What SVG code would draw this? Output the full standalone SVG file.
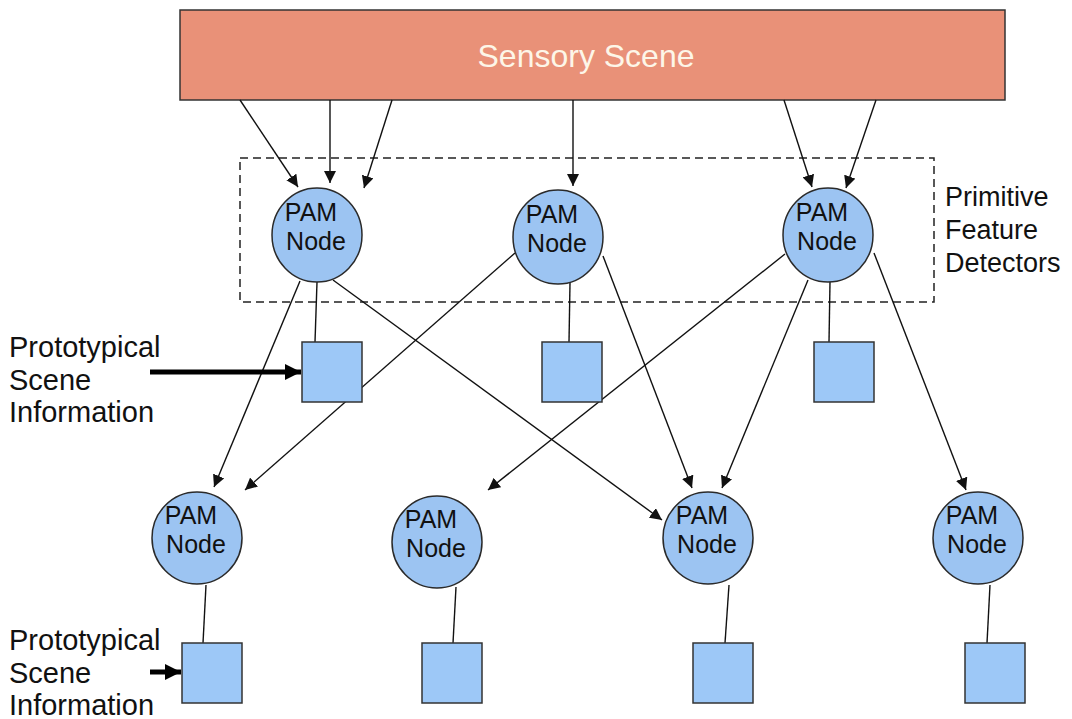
<svg xmlns="http://www.w3.org/2000/svg" width="1072" height="719" viewBox="0 0 1072 719">
<style>
.pam{fill:#9cc4f2;stroke:#2a2a2a;stroke-width:1.5}
.sq{fill:#9dc8f7;stroke:#333;stroke-width:1.5}
.t{font-family:"Liberation Sans",Arial,sans-serif;font-size:29px;fill:#111}
.tr{font-family:"Liberation Sans",Arial,sans-serif;font-size:27px;fill:#111}
.nt{font-family:"Liberation Sans",Arial,sans-serif;font-size:25px;fill:#111;text-anchor:middle}
.c line{stroke:#111;stroke-width:1.4}
.c line.a{marker-end:url(#ah)}
</style>
<defs>
<marker id="ah" viewBox="0 0 10 10" refX="10" refY="5" markerWidth="12" markerHeight="12" markerUnits="userSpaceOnUse" orient="auto">
<path d="M0,0 L10,5 L0,10 z" fill="#111"/>
</marker>
<marker id="bh" viewBox="0 0 10 10" refX="10" refY="5" markerWidth="16" markerHeight="16" markerUnits="userSpaceOnUse" orient="auto">
<path d="M0,0 L10,5 L0,10 z" fill="#000"/>
</marker>
</defs>
<rect width="1072" height="719" fill="#fff"/>
<g id="sensory">
<rect x="180" y="10" width="825" height="90" fill="#e99178" stroke="#333" stroke-width="1.5"/>
<text x="586" y="67" text-anchor="middle" font-family="Liberation Sans,Arial,sans-serif" font-size="32" fill="#fdf6e8">Sensory Scene</text>
</g>
<g id="detectors-box">
<rect x="240" y="158" width="694" height="144" fill="none" stroke="#222" stroke-width="1.5" stroke-dasharray="8,5"/>
</g>
<g class="c" id="connectors">
<line class="a" x1="240" y1="100" x2="298" y2="187"/>
<line class="a" x1="330" y1="100" x2="330" y2="183"/>
<line class="a" x1="392" y1="100" x2="364" y2="188"/>
<line class="a" x1="573" y1="100" x2="573" y2="186"/>
<line class="a" x1="784" y1="100" x2="812" y2="187"/>
<line class="a" x1="876" y1="100" x2="846" y2="188"/>
<line class="a" x1="300" y1="281" x2="214" y2="487"/>
<line x1="317" y1="282" x2="315" y2="342"/>
<line class="a" x1="333" y1="280" x2="662" y2="520"/>
<line class="a" x1="515" y1="253" x2="245" y2="490"/>
<line x1="570" y1="283" x2="569" y2="342"/>
<line class="a" x1="603" y1="256" x2="692" y2="488"/>
<line class="a" x1="785" y1="254" x2="488" y2="490"/>
<line class="a" x1="808" y1="280" x2="722" y2="488"/>
<line x1="830" y1="282" x2="829" y2="342"/>
<line class="a" x1="874" y1="253" x2="966" y2="490"/>
<line x1="206" y1="585" x2="203" y2="643"/>
<line x1="456" y1="587" x2="453" y2="643"/>
<line x1="729" y1="585" x2="725" y2="643"/>
<line x1="990" y1="585" x2="987" y2="643"/>
<line x1="150" y1="372" x2="301" y2="372" style="stroke:#000;stroke-width:5;marker-end:url(#bh)"/>
<line x1="150" y1="672" x2="181" y2="672" style="stroke:#000;stroke-width:5;marker-end:url(#bh)"/>
</g>
<g id="pam-top-1"><ellipse class="pam" cx="317" cy="235" rx="45" ry="47"/><text class="nt" x="311" y="221">PAM</text><text class="nt" x="316" y="250">Node</text></g>
<g id="pam-top-2"><ellipse class="pam" cx="558" cy="237" rx="45" ry="47"/><text class="nt" x="552" y="223">PAM</text><text class="nt" x="557" y="252">Node</text></g>
<g id="pam-top-3"><ellipse class="pam" cx="828" cy="235" rx="45" ry="47"/><text class="nt" x="822" y="221">PAM</text><text class="nt" x="827" y="250">Node</text></g>
<g id="pam-bot-1"><ellipse class="pam" cx="197" cy="538" rx="45" ry="46"/><text class="nt" x="191" y="524">PAM</text><text class="nt" x="196" y="553">Node</text></g>
<g id="pam-bot-2"><ellipse class="pam" cx="437" cy="542" rx="45" ry="46"/><text class="nt" x="431" y="528">PAM</text><text class="nt" x="436" y="557">Node</text></g>
<g id="pam-bot-3"><ellipse class="pam" cx="708" cy="538" rx="45" ry="46"/><text class="nt" x="702" y="524">PAM</text><text class="nt" x="707" y="553">Node</text></g>
<g id="pam-bot-4"><ellipse class="pam" cx="978" cy="538" rx="45" ry="46"/><text class="nt" x="972" y="524">PAM</text><text class="nt" x="977" y="553">Node</text></g>
<g id="sq-top-1"><rect class="sq" x="302" y="342" width="60" height="60"/></g>
<g id="sq-top-2"><rect class="sq" x="542" y="342" width="60" height="60"/></g>
<g id="sq-top-3"><rect class="sq" x="814" y="342" width="60" height="60"/></g>
<g id="sq-bot-1"><rect class="sq" x="182" y="643" width="60" height="60"/></g>
<g id="sq-bot-2"><rect class="sq" x="422" y="643" width="60" height="60"/></g>
<g id="sq-bot-3"><rect class="sq" x="693" y="643" width="60" height="60"/></g>
<g id="sq-bot-4"><rect class="sq" x="965" y="643" width="60" height="60"/></g>
<g id="label-pfd"><text class="tr" x="945" y="206">Primitive</text><text class="tr" x="945" y="239">Feature</text><text class="tr" x="945" y="272">Detectors</text></g>
<g id="label-psi-1"><text class="t" x="9" y="357">Prototypical</text><text class="t" x="9" y="390">Scene</text><text class="t" x="9" y="422">Information</text></g>
<g id="label-psi-2"><text class="t" x="9" y="650">Prototypical</text><text class="t" x="9" y="683">Scene</text><text class="t" x="9" y="715">Information</text></g>
</svg>
